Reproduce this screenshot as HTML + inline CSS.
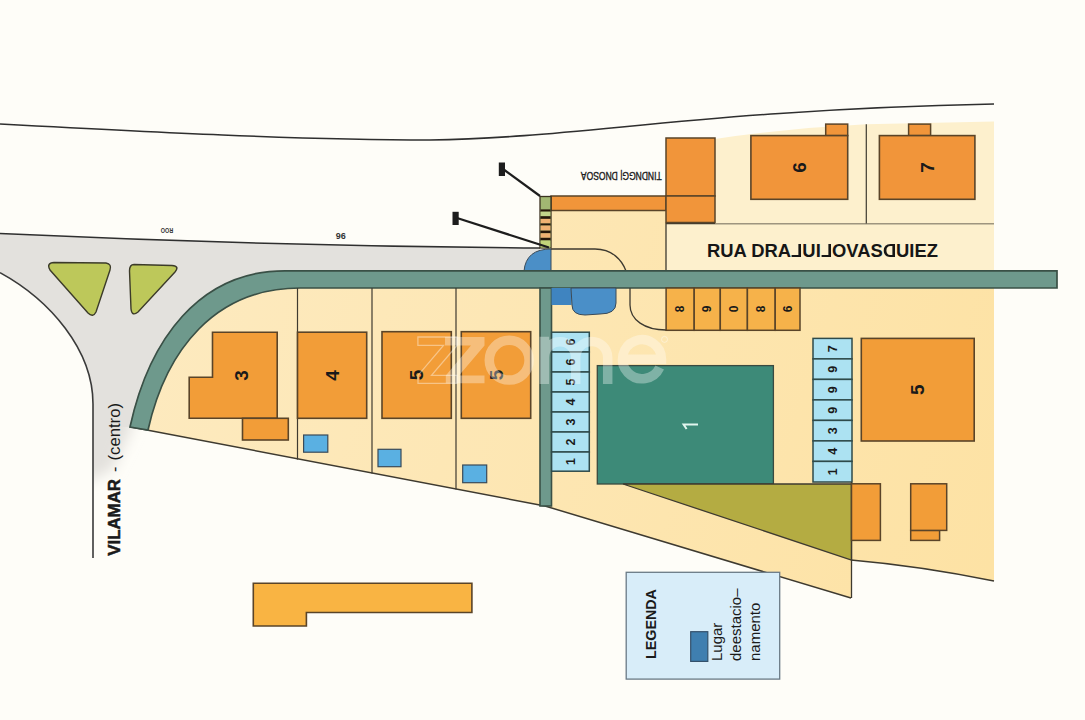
<!DOCTYPE html>
<html><head><meta charset="utf-8">
<style>
html,body{margin:0;padding:0;position:relative;width:1085px;height:720px;overflow:hidden;background:#fefdf8;}
svg{display:block;font-family:"Liberation Sans",sans-serif;}
</style></head>
<body>
<svg width="1085" height="720" viewBox="0 0 1085 720">
<defs>
  <filter id="blur6" x="-50%" y="-50%" width="200%" height="200%"><feGaussianBlur stdDeviation="7"/></filter>
  <clipPath id="clipv"><rect x="93" y="404" width="60" height="120"/></clipPath>
  <linearGradient id="greyfade" x1="0" y1="0" x2="0" y2="1">
    <stop offset="0" stop-color="#e3e1dd"/>
    <stop offset="0.25" stop-color="#e3e1dd"/>
    <stop offset="0.8" stop-color="#fefdf8"/>
  </linearGradient>
  <linearGradient id="landg" gradientUnits="userSpaceOnUse" x1="150" y1="300" x2="994" y2="560">
    <stop offset="0" stop-color="#fdeabf"/>
    <stop offset="1" stop-color="#fde2a4"/>
  </linearGradient>
  <linearGradient id="topfade" x1="0" y1="0" x2="0" y2="1">
    <stop offset="0" stop-color="#fdf1d0" stop-opacity="0"/>
    <stop offset="1" stop-color="#fdf1d0"/>
  </linearGradient>
</defs>
<rect width="1085" height="720" fill="#fefdf8"/>

<!-- grey road -->
<g clip-path="url(#clipv)"><path d="M80,400 L132,400 L132,428 L112,470 L80,485 Z" fill="#e3e1dd" filter="url(#blur6)"/></g>
<path d="M0,233.5 Q270,246 540,248 L540,271 L285,271 C200,271 150,340 131,427 L93,427 L93,404 C93,350 50,300 0,272.7 Z" fill="#e3e1dd"/>
<!-- road lines -->
<path d="M0,124 C150,132 300,140 430,140 C580,138 700,110 994,104" fill="none" stroke="#2f2f2f" stroke-width="1.6"/>
<path d="M0,233.5 Q270,246 540,248" fill="none" stroke="#2f2f2f" stroke-width="1.6"/>
<path d="M0,272.7 C50,300 93,350 93,404 L93,558" fill="none" stroke="#3a3a3a" stroke-width="1.6"/>

<!-- olive triangles -->
<path d="M54,262.5 L106,263 Q112,264 110,270 L96,312 Q93,318 88,313 L50,270 Q46,263 54,262.5 Z" fill="#bdc85a" stroke="#3c3b2a" stroke-width="1.4"/>
<path d="M134,264.5 L172,265.5 Q180,266 175,272 L138,312 Q132,317 131,309 L129.5,271 Q129.5,264.5 134,264.5 Z" fill="#bdc85a" stroke="#3c3b2a" stroke-width="1.4"/>

<!-- land main -->
<path d="M131,427 C150,340 200,271 285,271 L994,271 L994,581 Q920,566 851,560 L851,598 L545,506 Z" fill="url(#landg)"/>
<path d="M131,427 L545,506 L851,598 M851,560 Q920,566 994,581" fill="none" stroke="#3e3a30" stroke-width="1.5"/>
<!-- land above band -->
<rect x="551" y="196" width="443" height="75" fill="url(#landg)"/>
<rect x="666" y="223.5" width="328" height="47.5" fill="#fdf0cd"/>
<path d="M666,271 V223.5 H994" fill="none" stroke="#3e3a30" stroke-width="1.3"/>
<path d="M715,139 Q790,128 866,124.3 L994,121.6 L994,223.5 L715,223.5 Z" fill="#fdf0cd"/>

<line x1="866.3" y1="124.3" x2="866.3" y2="223.5" stroke="#3e3a30" stroke-width="1.2"/>

<!-- orange top blocks -->
<rect x="551" y="196" width="115" height="14.5" fill="#f1953a" stroke="#5a4428" stroke-width="1.5"/>
<rect x="666" y="138" width="49" height="58" fill="#f1953a" stroke="#5a4428" stroke-width="1.5"/>
<rect x="666" y="196" width="49" height="26.5" fill="#f1953a" stroke="#5a4428" stroke-width="1.5"/>
<!-- striped column -->
<rect x="540" y="196.5" width="11" height="51.5" fill="#a2b872" stroke="#3a3220" stroke-width="1.3"/>
<rect x="540.6" y="209.4" width="9.8" height="2.3" fill="#26180a"/>
<rect x="540.6" y="211.7" width="9.8" height="4.5" fill="#c2d58a"/>
<rect x="540.6" y="216.2" width="9.8" height="2.7" fill="#26180a"/>
<rect x="540.6" y="218.9" width="9.8" height="4.5" fill="#f0b272"/>
<rect x="540.6" y="223.4" width="9.8" height="2.2" fill="#26180a"/>
<rect x="540.6" y="225.6" width="9.8" height="5" fill="#f0b272"/>
<rect x="540.6" y="230.6" width="9.8" height="2.7" fill="#26180a"/>
<rect x="540.6" y="233.3" width="9.8" height="4.5" fill="#f0b272"/>
<rect x="540.6" y="237.8" width="9.8" height="2.7" fill="#26180a"/>
<rect x="540.6" y="240.5" width="9.8" height="7" fill="#c2d47a"/>

<!-- markers -->
<line x1="503" y1="169" x2="540" y2="196" stroke="#1d1d1d" stroke-width="2.2"/>
<rect x="498.8" y="162.5" width="6.2" height="13.5" fill="#1d1d1d"/>
<line x1="457" y1="218" x2="549" y2="247.5" stroke="#1d1d1d" stroke-width="2.2"/>
<rect x="452.5" y="211.8" width="6.2" height="13.2" fill="#1d1d1d"/>

<!-- blue quarter -->
<path d="M524,271 Q526,249 551,249 L551,271 Z" fill="#4b8fc7" stroke="#3a4a58" stroke-width="1"/>
<!-- curve line above band -->
<path d="M551,249 L595,249 C612,249 622,260 626,271" fill="none" stroke="#3e3a30" stroke-width="1.3"/>

<!-- teal band -->
<path d="M130,427 C149,340 199,270.8 285,270.8 L1057,270.8 L1057,288 L300,288 C215,288 166,350 148,430 Z" fill="#6e998c" stroke="#3a5046" stroke-width="1.7"/>
<rect x="540" y="288" width="11.5" height="218" fill="#6e998c" stroke="#3a5046" stroke-width="1.6"/>

<!-- blue shapes below band -->
<rect x="551.5" y="288" width="20" height="17" fill="#3f84c0"/>
<path d="M571,288 L616,288 L616,303 Q616,314 600,314 L585,315 Q572,315 572,305 Z" fill="#4a8fc8" stroke="#3a4a58" stroke-width="1"/>
<!-- curve line below band -->
<path d="M630,288 L630,305 C630,320 645,330 666,330" fill="none" stroke="#3e3a30" stroke-width="1.3"/>

<!-- lot dividers -->
<line x1="297.5" y1="288" x2="297.5" y2="459.6" stroke="#3e3a30" stroke-width="1.2"/>
<line x1="372" y1="288" x2="372" y2="473.6" stroke="#3e3a30" stroke-width="1.2"/>
<line x1="456" y1="288" x2="456" y2="489.4" stroke="#3e3a30" stroke-width="1.2"/>

<!-- houses lots -->
<path d="M212.5,332.2 L277.2,332.2 L277.2,418.3 L189.2,418.3 L189.2,377.2 L212.5,377.2 Z" fill="#f29d38" stroke="#5a4428" stroke-width="1.6"/>
<rect x="242.5" y="418.3" width="45.8" height="21.7" fill="#f29d38" stroke="#5a4428" stroke-width="1.6"/>
<rect x="297.5" y="332.2" width="69.2" height="86.1" fill="#f29d38" stroke="#5a4428" stroke-width="1.6"/>
<rect x="382" y="331.7" width="69.3" height="86.6" fill="#f29d38" stroke="#5a4428" stroke-width="1.6"/>
<rect x="461.3" y="331.7" width="69.4" height="86.6" fill="#f29d38" stroke="#5a4428" stroke-width="1.6"/>
<rect x="303.6" y="435" width="24.2" height="17.2" fill="#5ab0e2" stroke="#3a4a58" stroke-width="1.2"/>
<rect x="378" y="449.3" width="23" height="17.4" fill="#5ab0e2" stroke="#3a4a58" stroke-width="1.2"/>
<rect x="462.7" y="465" width="24" height="17.7" fill="#5ab0e2" stroke="#3a4a58" stroke-width="1.2"/>

<!-- upper houses 6 7 -->
<rect x="825.7" y="124.1" width="22" height="11.5" fill="#f1953a" stroke="#5a4428" stroke-width="1.5"/>
<rect x="750.9" y="135.6" width="96.8" height="63.7" fill="#f1953a" stroke="#5a4428" stroke-width="1.6"/>
<rect x="908.6" y="124.1" width="22" height="11.5" fill="#f1953a" stroke="#5a4428" stroke-width="1.5"/>
<rect x="879.4" y="135.6" width="95.5" height="63.7" fill="#f1953a" stroke="#5a4428" stroke-width="1.6"/>

<!-- left parking column -->
<g fill="#ace2f2" stroke="#2e4a4a" stroke-width="1.5">
<rect x="551.6" y="332.2" width="37.7" height="19.8"/>
<rect x="551.6" y="352" width="37.7" height="20"/>
<rect x="551.6" y="372" width="37.7" height="20"/>
<rect x="551.6" y="392" width="37.7" height="20"/>
<rect x="551.6" y="412" width="37.7" height="20"/>
<rect x="551.6" y="432" width="37.7" height="20"/>
<rect x="551.6" y="452" width="37.7" height="19.2"/>
</g>
<!-- right parking column -->
<g fill="#ace2f2" stroke="#2e4a4a" stroke-width="1.5">
<rect x="813" y="338.4" width="39" height="20.5"/>
<rect x="813" y="358.9" width="39" height="20.5"/>
<rect x="813" y="379.4" width="39" height="20.5"/>
<rect x="813" y="399.9" width="39" height="20.5"/>
<rect x="813" y="420.4" width="39" height="20.5"/>
<rect x="813" y="440.9" width="39" height="20.5"/>
<rect x="813" y="461.4" width="39" height="20.6"/>
</g>
<!-- orange parking row -->
<g fill="#f6b24a" stroke="#5a4428" stroke-width="1.5">
<rect x="666.1" y="288" width="28.1" height="42.3"/>
<rect x="694.2" y="288" width="26.1" height="42.3"/>
<rect x="720.3" y="288" width="27.1" height="42.3"/>
<rect x="747.4" y="288" width="27.8" height="42.3"/>
<rect x="775.2" y="288" width="24.8" height="42.3"/>
</g>

<!-- house 5 right -->
<rect x="861.3" y="338.4" width="112.9" height="102.6" fill="#f29d38" stroke="#5a4428" stroke-width="1.6"/>
<!-- dark teal -->
<rect x="597.3" y="365.6" width="176.1" height="118.4" fill="#3d8a78" stroke="#3a4a40" stroke-width="1.3"/>
<!-- olive triangle -->
<path d="M623,484 L851.5,484 L851.5,560 Z" fill="#b4ac42" stroke="#3e3a30" stroke-width="1.3"/>
<line x1="851.5" y1="482" x2="851.5" y2="598" stroke="#3e3a30" stroke-width="1.3"/>
<!-- bottom right orange -->
<rect x="851.5" y="483.8" width="28.9" height="56.6" fill="#f29d38" stroke="#5a4428" stroke-width="1.5"/>
<rect x="910.7" y="530.4" width="28.9" height="10" fill="#f29d38" stroke="#5a4428" stroke-width="1.5"/>
<rect x="910.7" y="483.8" width="36" height="46.6" fill="#f29d38" stroke="#5a4428" stroke-width="1.5"/>

<!-- bottom left orange shape -->
<path d="M253.3,583.3 L471.9,583.3 L471.9,612.5 L306.4,612.5 L306.4,626 L253.3,626 Z" fill="#f9b443" stroke="#5a4428" stroke-width="1.6"/>

<!-- legend -->
<rect x="626.2" y="572.3" width="153.5" height="106.8" fill="#d8edf9" stroke="#6a7a86" stroke-width="1.3"/>
<rect x="690.7" y="631.7" width="17.1" height="29.7" fill="#3f7fb0" stroke="#34506a" stroke-width="1.2"/>

<!-- numbers -->
<g>
<text transform="translate(570.5,342.1) rotate(-90)" font-size="12.5" font-weight="bold" fill="#1a1a1a" text-anchor="middle" dominant-baseline="central">6</text>
<text transform="translate(570.5,362.0) rotate(-90)" font-size="12.5" font-weight="bold" fill="#1a1a1a" text-anchor="middle" dominant-baseline="central">6</text>
<text transform="translate(570.5,382.0) rotate(-90)" font-size="12.5" font-weight="bold" fill="#1a1a1a" text-anchor="middle" dominant-baseline="central">5</text>
<text transform="translate(570.5,402.0) rotate(-90)" font-size="12.5" font-weight="bold" fill="#1a1a1a" text-anchor="middle" dominant-baseline="central">4</text>
<text transform="translate(570.5,422.0) rotate(-90)" font-size="12.5" font-weight="bold" fill="#1a1a1a" text-anchor="middle" dominant-baseline="central">3</text>
<text transform="translate(570.5,442.0) rotate(-90)" font-size="12.5" font-weight="bold" fill="#1a1a1a" text-anchor="middle" dominant-baseline="central">2</text>
<text transform="translate(570.5,461.6) rotate(-90)" font-size="12.5" font-weight="bold" fill="#1a1a1a" text-anchor="middle" dominant-baseline="central">1</text>
<text transform="translate(832.5,348.7) rotate(-90)" font-size="12.5" font-weight="bold" fill="#1a1a1a" text-anchor="middle" dominant-baseline="central">7</text>
<text transform="translate(832.5,369.2) rotate(-90)" font-size="12.5" font-weight="bold" fill="#1a1a1a" text-anchor="middle" dominant-baseline="central">9</text>
<text transform="translate(832.5,389.7) rotate(-90)" font-size="12.5" font-weight="bold" fill="#1a1a1a" text-anchor="middle" dominant-baseline="central">9</text>
<text transform="translate(832.5,410.2) rotate(-90)" font-size="12.5" font-weight="bold" fill="#1a1a1a" text-anchor="middle" dominant-baseline="central">9</text>
<text transform="translate(832.5,430.7) rotate(-90)" font-size="12.5" font-weight="bold" fill="#1a1a1a" text-anchor="middle" dominant-baseline="central">3</text>
<text transform="translate(832.5,451.2) rotate(-90)" font-size="12.5" font-weight="bold" fill="#1a1a1a" text-anchor="middle" dominant-baseline="central">4</text>
<text transform="translate(832.5,471.7) rotate(-90)" font-size="12.5" font-weight="bold" fill="#1a1a1a" text-anchor="middle" dominant-baseline="central">1</text>
<text transform="translate(680.2,309) rotate(-90)" font-size="12" font-weight="bold" fill="#1a1a1a" text-anchor="middle" dominant-baseline="central">8</text>
<text transform="translate(707.2,309) rotate(-90)" font-size="12" font-weight="bold" fill="#1a1a1a" text-anchor="middle" dominant-baseline="central">9</text>
<text transform="translate(733.8,309) rotate(-90)" font-size="12" font-weight="bold" fill="#1a1a1a" text-anchor="middle" dominant-baseline="central">0</text>
<text transform="translate(761.3,309) rotate(-90)" font-size="12" font-weight="bold" fill="#1a1a1a" text-anchor="middle" dominant-baseline="central">8</text>
<text transform="translate(787.6,309) rotate(-90)" font-size="12" font-weight="bold" fill="#1a1a1a" text-anchor="middle" dominant-baseline="central">6</text>
<text transform="translate(241.5,375.5) rotate(-90)" font-size="19" font-weight="bold" fill="#1a1a1a" text-anchor="middle" dominant-baseline="central">3</text>
<text transform="translate(332,375.5) rotate(-90)" font-size="19" font-weight="bold" fill="#1a1a1a" text-anchor="middle" dominant-baseline="central">4</text>
<text transform="translate(416.6,375) rotate(-90)" font-size="19" font-weight="bold" fill="#1a1a1a" text-anchor="middle" dominant-baseline="central">5</text>
<text transform="translate(496,375) rotate(-90)" font-size="19" font-weight="bold" fill="#1a1a1a" text-anchor="middle" dominant-baseline="central">5</text>
<text transform="translate(799.3,167.5) rotate(-90)" font-size="19" font-weight="bold" fill="#1a1a1a" text-anchor="middle" dominant-baseline="central">6</text>
<text transform="translate(927,167.5) rotate(-90)" font-size="19" font-weight="bold" fill="#1a1a1a" text-anchor="middle" dominant-baseline="central">7</text>
<text transform="translate(917.7,389.7) rotate(-90)" font-size="19" font-weight="bold" fill="#1a1a1a" text-anchor="middle" dominant-baseline="central">5</text>
<path d="M698,424.6 H683.6 L686.6,429" fill="none" stroke="#e2f5ee" stroke-width="2" stroke-linejoin="miter"/>
</g>
<!-- texts -->

<text transform="translate(120.4,555.8) rotate(-90)" font-size="16.8" font-weight="bold" fill="#1a1a1a" stroke="#1a1a1a" stroke-width="0.5" textLength="76.8" lengthAdjust="spacingAndGlyphs">VILAMAR</text>
<text transform="translate(120.4,472) rotate(-90)" font-size="16" fill="#1a1a1a">-</text>
<text transform="translate(120.4,460.5) rotate(-90)" font-size="16.3" fill="#1a1a1a" textLength="57.5" lengthAdjust="spacingAndGlyphs">(centro)</text>
<text transform="translate(656,659) rotate(-90)" font-size="14.3" font-weight="bold" fill="#1a1a1a">LEGENDA</text>
<text transform="translate(722,661) rotate(-90)" font-size="15" fill="#1a1a1a">Lugar</text>
<text transform="translate(741,661) rotate(-90)" font-size="15" fill="#1a1a1a">deestacio–</text>
<text transform="translate(759.5,661) rotate(-90)" font-size="15" fill="#1a1a1a">namento</text>

<!-- small texts -->
<text transform="translate(167,230) rotate(180)" font-size="8" font-weight="bold" fill="#333" text-anchor="middle" dominant-baseline="central" textLength="12.5" lengthAdjust="spacingAndGlyphs">ROO</text>
<text transform="translate(340.8,236.3) rotate(180)" font-size="9" font-weight="bold" fill="#333" text-anchor="middle" dominant-baseline="central">96</text>
<text transform="translate(621.3,175.9) rotate(180)" font-size="10.5" font-weight="normal" fill="#1a1a1a" stroke="#1a1a1a" stroke-width="0.35" text-anchor="middle" dominant-baseline="central" textLength="80.8" lengthAdjust="spacingAndGlyphs">TINDNGG| DNOSOA</text>
<!-- watermark -->
<g fill="#ffffff" fill-opacity="0.34">
<path d="M445,337 H484.5 V345.4 L459,375.4 H484.5 V383.3 H445.8 V375.4 L471,345.4 H445 Z"/>
</g>
<g fill="none" stroke="#ffffff" stroke-opacity="0.34" stroke-width="9.5">
<circle cx="509.2" cy="360.2" r="19.9"/>
<path d="M544.3,336.7 V383.9 M544.3,357.4 A15.7,15.7 0 0 1 575.7,357.4 V383.9 M575.7,357.4 A16,16 0 0 1 607.7,357.4 V383.9"/>
<path d="M622.5,359.2 H661.5 A19.5,19.5 0 1 0 659.7,367.4"/>
</g>
<path d="M417.9,337 H457 V345.4 L431.5,375.4 H457 V383.3 H418 V375.4 L443.5,345.4 H417.9 Z" fill="none" stroke="#ffffff" stroke-opacity="0.4" stroke-width="1.3"/>
<circle cx="664.5" cy="339.4" r="3" fill="none" stroke="#fff" stroke-opacity="0.4" stroke-width="1"/>
</svg>
<div id="rua" style="position:absolute;left:707px;top:241px;height:20px;font-family:'Liberation Sans',sans-serif;font-weight:bold;font-size:18.4px;line-height:20px;color:#161616;white-space:nowrap;">RUA DRA<span style="display:inline-block;transform:scaleX(-1)">L</span>UI<span style="display:inline-block;transform:scaleX(-1)">L</span>OVAS<span style="display:inline-block;transform:scaleX(-1)">D</span>UIEZ</div>
</body></html>
